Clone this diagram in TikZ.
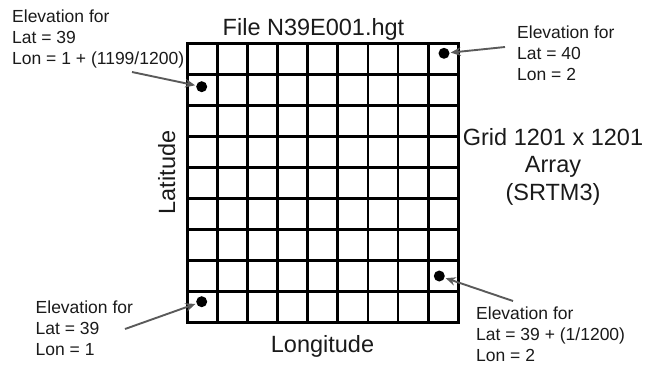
\documentclass[tikz,border=0pt]{standalone}
\usepackage{fontspec}
\setmainfont{Liberation Sans}
\usetikzlibrary{arrows.meta}
\definecolor{arrowgray}{HTML}{5A5A5A}
\definecolor{textblack}{HTML}{1A1A1A}
\begin{document}
\begin{tikzpicture}[x=1pt,y=-1pt,
  small/.style={font=\fontsize{17.5}{21.3}\selectfont, text=textblack, align=left, anchor=north west, inner sep=0pt},
  big/.style={font=\fontsize{23.5}{27.5}\selectfont, text=textblack, inner sep=0pt},
  gridline/.style={line width=2.8pt, line cap=rect},
  dot/.style={circle, fill=black, inner sep=0pt, minimum size=11pt},
  pointer/.style={draw=arrowgray, line width=1.9pt, -{Stealth[length=10pt,width=8.5pt]}, shorten >=1pt}]
\useasboundingbox (0,0) rectangle (659,365);
% grid
\foreach \i in {0,...,9} {
  \draw[gridline] ({187.3+\i*30.11},43.3) -- ({187.3+\i*30.11},322.3);
  \draw[gridline] (187.3,{43.3+\i*31}) -- (458.3,{43.3+\i*31});
}
% dots
\node[dot] (dTL) at (201.7,86.7) {};
\node[dot] (dTR) at (444,53.3) {};
\node[dot] (dBR) at (439.3,276) {};
\node[dot] (dBL) at (201.7,301.7) {};
% texts
\node[big, anchor=base] (title) at (313.5,35) {File N39E001.hgt};
\node[big, anchor=base] (lon) at (322.5,352) {Longitude};
\node[big, anchor=base, rotate=90] (lat) at (175,172.5) {Latitude};
\node[big, align=center, anchor=north] (gridtxt) at (553,128) {Grid 1201 x 1201\\Array\\(SRTM3)};
\node[small] (lTL) at (12,9.5) {Elevation for\\Lat = 39\\Lon = 1 + (1199/1200)};
\node[small] (lTR) at (517,25.5) {Elevation for\\Lat = 40\\Lon = 2};
\node[small] (lBL) at (35.5,300.5) {Elevation for\\Lat = 39\\Lon = 1};
\node[small, font=\fontsize{17.5}{20.8}\selectfont] (lBR) at (476,307) {Elevation for\\Lat = 39 + (1/1200)\\Lon = 2};
% arrows
\coordinate (aTL) at (132,72);
\coordinate (aTR) at (505,47);
\coordinate (aBL) at (125,329);
\coordinate (aBR) at (513,301);
\draw[pointer] (aTL) -- (dTL);
\draw[pointer] (aTR) -- (dTR);
\draw[pointer] (aBL) -- (dBL);
\draw[pointer] (aBR) -- (dBR);
\end{tikzpicture}
\end{document}
